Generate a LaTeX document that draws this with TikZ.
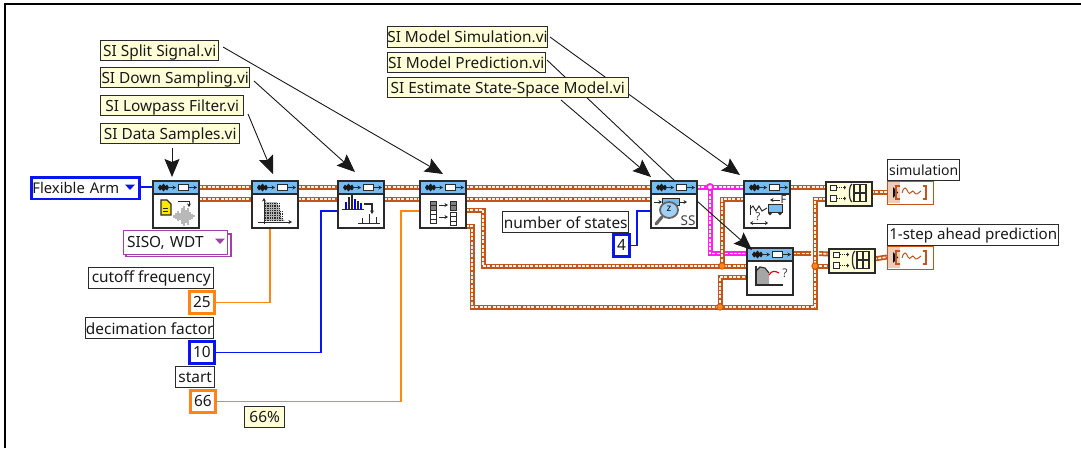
\documentclass[tikz,border=0pt]{standalone}
\usepackage{fontspec}
\setmainfont{Noto Sans}
\usetikzlibrary{arrows.meta,calc,positioning}
\definecolor{tipbg}{HTML}{FFFFD8}
\definecolor{wbrown}{HTML}{C4551A}
\definecolor{wlight}{HTML}{FFF4E8}
\definecolor{lvblue}{HTML}{0A14F0}
\definecolor{lvorange}{HTML}{FF8410}
\definecolor{lvpink}{HTML}{FF20F0}
\definecolor{lvpurple}{HTML}{A040A8}
\definecolor{headblue}{HTML}{78BCF0}
\definecolor{edge}{HTML}{2A2A2A}
\tikzset{
 x=1pt,y=-1pt,
 txt/.style={font=\fontsize{15.4}{15.4}\selectfont,inner sep=0pt,text=black!90},
 tipbox/.style={txt,draw=edge,fill=tipbg,line width=1.4pt,anchor=north west,align=left,text depth=0pt},
 lab/.style={txt,draw=edge,fill=white,line width=1.4pt,anchor=north west},
 numb/.style={txt,draw=#1,fill=white,line width=2.8pt,anchor=north west},
 viblk/.style={draw=edge,fill=white,line width=1.3pt,minimum width=46pt,minimum height=47pt,inner sep=0pt,anchor=north west},
 bldblk/.style={draw=edge,fill=tipbg,line width=1.5pt,minimum width=46pt,minimum height=24pt,inner sep=0pt,anchor=north west},
 indblk/.style={draw=wbrown,fill=white,line width=1.2pt,minimum width=46pt,minimum height=23pt,inner sep=0pt,anchor=north west},
 note/.style={draw=black!90,line width=.9pt,-{Stealth[length=18pt,width=15pt,inset=3pt]}},
 notep/.style={draw=black!90,line width=.9pt},
 thin wire/.style={draw=#1,line width=1.3pt},
 brownwire/.style={preaction={draw=wbrown,line width=5pt},draw=wlight,line width=1.6pt,dash pattern=on 3pt off 1.3pt},
 pinkwire/.style={preaction={draw=lvpink,line width=5pt},draw=white,line width=1.6pt,dash pattern=on 3pt off 1.3pt},
 junct/.style={circle,fill=lvorange,draw=wbrown,line width=.8pt,minimum size=6.5pt,inner sep=0pt},
 pjunct/.style={circle,fill=white,draw=lvpink,line width=1.8pt,minimum size=6pt,inner sep=0pt},
 ic/.style={draw=edge,line width=1pt},
 sarrow/.style={draw=edge,line width=1pt,-{Stealth[length=3.5pt,width=4pt]}},
}
% name, x, y : block with connector header
\newcommand{\viblock}[3]{%
 \node[viblk] (#1) at (#2,#3) {};
 \fill[headblue] (#2+.6,#3+.6) rectangle (#2+45.4,#3+13);
 \draw[edge,line width=1.1pt] (#2,#3+13) -- (#2+46,#3+13);
 \draw[edge,line width=1.3pt] (#2,#3) rectangle (#2+46,#3+47);
 \fill[black!90] (#2+5,#3+6.5) -- (#2+7,#3+3.5) -- (#2+8.5,#3+5) -- (#2+10.5,#3+2.5) -- (#2+12.5,#3+5) -- (#2+14,#3+3.5) -- (#2+16,#3+6.5) -- (#2+14,#3+9.5) -- (#2+12.5,#3+8) -- (#2+10.5,#3+10.5) -- (#2+8.5,#3+8) -- (#2+7,#3+9.5) -- cycle;
 \draw[sarrow,line width=.8pt] (#2+15,#3+6.5) -- (#2+23,#3+6.5);
 \draw[edge,fill=white,line width=1pt] (#2+25,#3+3.5) rectangle (#2+35,#3+9.5);
 \draw[sarrow,line width=.8pt] (#2+36,#3+6.5) -- (#2+44,#3+6.5);
 \coordinate (#1-l1) at (#2,#3+6);
 \coordinate (#1-l2) at (#2,#3+18);
 \coordinate (#1-l3) at (#2,#3+30);
 \coordinate (#1-r1) at (#2+46,#3+6);
 \coordinate (#1-r2) at (#2+46,#3+18);
 \coordinate (#1-r3) at (#2+46,#3+29);
 \coordinate (#1-r4) at (#2+46,#3+45);
 \coordinate (#1-top) at (#2+23,#3);
}
% name, x, y : yellow build-waveform block
\newcommand{\bldblock}[3]{%
 \node[bldblk] (#1) at (#2,#3) {};
 \draw[ic,fill=white] (#2+5,#3+4) rectangle (#2+11,#3+9.5);
 \draw[ic,fill=white] (#2+5,#3+14.5) rectangle (#2+11,#3+20);
 \draw[ic,densely dotted] (#2+12,#3+6.5) -- (#2+20,#3+6.5);
 \draw[ic,densely dotted] (#2+12,#3+17.5) -- (#2+20,#3+17.5);
 \fill[edge] (#2+21,#3+6.5) -- (#2+19,#3+4.5) -- (#2+19,#3+8.5) -- cycle;
 \fill[edge] (#2+21,#3+17.5) -- (#2+19,#3+15.5) -- (#2+19,#3+19.5) -- cycle;
 \draw[edge,line width=1.2pt] (#2+27,#3+3) .. controls (#2+23.5,#3+5) and (#2+23.5,#3+19) .. (#2+27,#3+21);
 \draw[edge,line width=1.2pt] (#2+29,#3+3.5) rectangle (#2+41,#3+20.5);
 \draw[edge,line width=1.2pt] (#2+35,#3+3.5) -- (#2+35,#3+20.5) (#2+29,#3+12) -- (#2+41,#3+12);
 \coordinate (#1-l1) at (#2,#3+6);
 \coordinate (#1-l2) at (#2,#3+18);
 \coordinate (#1-r) at (#2+46,#3+11);
}
% name, x, y : waveform indicator
\newcommand{\indblock}[3]{%
 \node[indblk] (#1) at (#2,#3) {};
 \fill[wbrown!30] (#2+.6,#3+.6) rectangle (#2+13,#3+22.4);
 \fill[black] (#2+6,#3+6) -- (#2+11,#3+11.5) -- (#2+6,#3+17) -- cycle;
 \draw[wbrown,line width=1.1pt] (#2+13,#3+5) -- (#2+9,#3+5) -- (#2+9,#3+18) -- (#2+13,#3+18);
 \draw[wbrown,line width=1.1pt] (#2+36,#3+5) -- (#2+39,#3+5) -- (#2+39,#3+18) -- (#2+36,#3+18);
 \draw[wbrown,line width=1pt] (#2+15,#3+12) .. controls (#2+17,#3+5) and (#2+19,#3+6) .. (#2+21,#3+11) .. controls (#2+23,#3+16) and (#2+25,#3+7) .. (#2+27,#3+11) .. controls (#2+29,#3+15) and (#2+31,#3+12) .. (#2+34,#3+10);
 \coordinate (#1-l) at (#2,#3+11);
}
\begin{document}
\begin{tikzpicture}
\useasboundingbox (0,0) rectangle (1081,448);
\fill[white] (0,0) rectangle (1081,448);
\draw[black,line width=2.4pt] (5,448) -- (5,4) -- (1081,4);

\coordinate (a0) at (172,148);
\coordinate (a1) at (248,114);
\coordinate (a2) at (254,81);
\coordinate (a3) at (223,47);
\coordinate (a4) at (561,100);
\coordinate (a5) at (547,60);
\coordinate (a6) at (550,37);

\viblock{ds}{153}{181}
\viblock{lp}{252}{181}
\viblock{dn}{338}{181}
\viblock{sp}{420}{181}
\viblock{es}{651}{181}
\viblock{si}{744}{181}
\viblock{pr}{747}{248}
\bldblock{b1}{825}{181}
\bldblock{b2}{828}{248}
\indblock{i1}{887}{181}
\indblock{i2}{887}{246}

% controls and labels
\node[numb=lvblue,font=\fontsize{14.8}{14.8}\selectfont,minimum width=108pt,minimum height=21.5pt,text width=106pt,align=left] (fa) at (30,176) {Flexible Arm};
\fill[lvblue] (125,184.5) -- (135,184.5) -- (130,190) -- cycle;
\draw[lvpurple,line width=1.1pt,fill=white] (126,234) rectangle (231,256.5);
\node[txt,draw=lvpurple,fill=white,line width=1.1pt,anchor=north west,minimum width=104pt,minimum height=24pt,text width=102pt,align=left] (ring) at (123,230) {\,SISO, WDT};
\fill[lvpurple] (215,238.5) -- (225,238.5) -- (220,244) -- cycle;

\node[lab,minimum width=125pt,minimum height=21pt] (cf) at (88,267) {cutoff frequency};
\node[numb=lvorange,minimum width=25pt,minimum height=22pt] (n25) at (188,290) {25};
\node[lab,minimum width=128pt,minimum height=21pt] (df) at (85,317) {decimation factor};
\node[numb=lvblue,minimum width=25pt,minimum height=22pt] (n10) at (188,340) {10};
\node[lab,minimum width=39pt,minimum height=21pt] (st) at (175,366) {start};
\node[numb=lvorange,minimum width=25pt,minimum height=22pt] (n66) at (189,389) {66};
\node[tipbox,minimum width=40pt,minimum height=21pt] (pc) at (244,406) {66\%};
\node[lab,minimum width=126pt,minimum height=21pt] (ns) at (502,211) {number of states};
\node[numb=lvblue,minimum width=16pt,minimum height=22pt] (n4) at (612,233) {4};
\node[lab,font=\fontsize{14}{14}\selectfont,minimum width=72pt,minimum height=21pt] (lsim) at (887,159) {simulation};
\node[lab,font=\fontsize{15.1}{15.1}\selectfont,minimum width=171pt,minimum height=21pt] (lpre) at (887,224) {1-step ahead prediction};

% thin wires
\draw[thin wire=lvblue] (fa.east |- ds-l1) -- (ds-l1);
\draw[thin wire=lvorange] (n25.east) -| (lp.south -| 270,228);
\draw[thin wire=lvblue] (n10.east) -| (321,211) -- (dn-l3);
\draw[thin wire=lvorange] (n66.east) -| (401,211) -- (sp-l3);
\draw[thin wire=lvblue] (n4.east) -| (637,211) -- (es-l3);

% thick wires
\coordinate (j1) at (722,266);
\coordinate (j2) at (720,307);
\coordinate (j3) at (815,266);
\coordinate (p1) at (710,187);
\foreach \a/\b in {ds-r1/lp-l1,ds-r2/lp-l2,lp-r1/dn-l1,lp-r2/dn-l2,dn-r1/sp-l1,dn-r2/sp-l2,sp-r1/es-l1,sp-r2/es-l2,si-r1/b1-l1}
  \draw[brownwire] (\a) -- (\b);
\draw[brownwire] (sp-r3) -| (483,266) -- (j1) -- (pr.west |- j1);
\draw[brownwire] (sp-r4) -| (472,307) -- (j2) -- (815,307) -- (j3) -- (815,199) -- (b1-l2);
\draw[pinkwire] (es-r1) -- (si-l1);
\draw[pinkwire] (p1) -- (710,253.5) -- (747,253.5);
\draw[brownwire] (j1) -- (722,199) -- (si-l2);
\draw[brownwire] (j2) -- (720,277) -- (747,277);
\draw[brownwire] (j3) -- (b2-l2);
\draw[brownwire] (793,253.5) -- (811,253.5);
\draw[brownwire] (819,253.5) -- (b2-l1);
\draw[brownwire] (b1-r) -- (i1-l);
\draw[brownwire] (b2-r) -- (i2-l);
\node[pjunct] (pj) at (p1) {};
\node[junct] (jj1) at (j1) {};
\node[junct] (jj2) at (j2) {};
\node[junct] (jj3) at (j3) {};

% redraw blocks on top of wires
\viblock{ds}{153}{181}
\viblock{lp}{252}{181}
\viblock{dn}{338}{181}
\viblock{sp}{420}{181}
\viblock{es}{651}{181}
\viblock{si}{744}{181}
\viblock{pr}{747}{248}
\bldblock{b1}{825}{181}
\bldblock{b2}{828}{248}
\indblock{i1}{887}{181}
\indblock{i2}{887}{246}

% --- icons ---
\begin{scope}[shift={(153pt,-181pt)}]
 \foreach \x/\h in {21/3,23/6,25/10,27/7,29/16,31/20,33/13,35/17,37/8,39/5,41/2}
   \draw[black!28,line width=1.3pt] (\x,35-\h/2) -- (\x,35+\h/2);
 \draw[edge,fill=yellow!90!orange,line width=1.1pt] (8,19) -- (14,19) -- (18,23) -- (18,34) -- (8,34) -- cycle;
 \draw[edge,line width=1pt] (10,27) -- (15,27) (10,30) -- (15,30);
 \draw[sarrow] (25,20) -- (36,20) -- (36,26);
\end{scope}
\begin{scope}[shift={(252pt,-181pt)}]
 \fill[black!30] (12,21) -- (25,21) -- (28,28) -- (29,36) -- (33,40) -- (12,40) -- cycle;
 \foreach \xx in {13,14.7,...,27} \foreach \yy in {22,23.7,...,40}
   \fill[edge] (\xx,\yy) rectangle +(1,1);
 \foreach \xx in {28,29.7} \foreach \yy in {30,31.7,...,40}
   \fill[edge] (\xx,\yy) rectangle +(1,1);
 \draw[sarrow] (12,43) -- (12,17);
 \draw[sarrow] (6,41) -- (40,41);
\end{scope}
\begin{scope}[shift={(338pt,-181pt)}]
 \draw[ic] (4,28) -- (26,28);
 \foreach \x/\h/\c in {8/7/blue,11/12/edge,14/15/edge,17/10/blue,20/8/edge,23/6/blue}
   \draw[\c,line width=1.1pt] (\x,28) -- (\x,28-\h);
 \draw[sarrow,line width=1.1pt] (26,23) -- (34,23) -- (34,33);
 \draw[ic] (20,42) -- (42,42);
 \foreach \x/\h in {24/5,31/9,38/6}
   \draw[ic] (\x,42) -- (\x,42-\h);
\end{scope}
\begin{scope}[shift={(420pt,-181pt)}]
 \foreach \yy/\cc in {20/black!50,24.5/black!50,29/white,33.5/white,38/white}
   \draw[ic,fill=\cc] (10,\yy) rectangle +(6,4.5);
 \foreach \yy/\cc in {20/black!50,24.5/black!50}
   \draw[ic,fill=\cc] (30,\yy) rectangle +(6,4.5);
 \foreach \yy in {31,35.5,40}
   \draw[ic,fill=white] (30,\yy) rectangle +(6,4.5);
 \draw[sarrow] (19,24) -- (28,24);
 \draw[sarrow] (19,36) -- (28,36);
\end{scope}
\begin{scope}[shift={(651pt,-181pt)}]
 \draw[sarrow] (3,21) -- (11,21);
 \draw[sarrow] (29,21) -- (36,21);
 \draw[ic,fill=headblue] (11,17) rectangle (28,24);
 \draw[black!60,fill=headblue!70,line width=1.8pt] (18,29) ellipse (9 and 8);
 \node[font=\fontsize{10}{10}\selectfont\bfseries,inner sep=0pt] (ez) at (18,28) {z};
 \draw[black!60,line width=3.2pt,line cap=round] (11,36) -- (5,43);
 \node[font=\fontsize{13.5}{13.5}\selectfont,text=black!75,inner sep=0pt] (ess) at (37,40) {SS};
\end{scope}
\begin{scope}[shift={(744pt,-181pt)}]
 \draw[sarrow] (36,19) -- (26,19);
 \node[font=\fontsize{11}{11}\selectfont\bfseries,inner sep=0pt,text=black!85] (simf) at (39.5,19) {F};
 \draw[ic] (6,24) -- (6,34);
 \draw[ic] (6,28) -- (9,25) -- (12,30) -- (15,25) -- (18,30) -- (23,27);
 \draw[ic,fill=headblue] (24,23) rectangle (38,31);
 \fill[edge] (26,32.5) circle (1.8) (36,32.5) circle (1.8);
 \node[font=\fontsize{11}{11}\selectfont,inner sep=0pt,text=black!75] (simq) at (14,36) {?};
 \draw[<->,>={Stealth[length=3pt,width=4pt]},ic] (6,42) -- (24,42);
\end{scope}
\begin{scope}[shift={(747pt,-248pt)}]
 \fill[black!35] (9,37) -- (9,23) -- (13,19) -- (18,20) -- (22,25) -- (22,37) -- cycle;
 \draw[edge,line width=1.1pt] (9,18) -- (9,37) -- (36,37);
 \draw[edge,line width=1.1pt] (9,23) -- (13,19) -- (18,20) -- (22,25);
 \draw[red!85!black,line width=1.1pt] (22,27) .. controls (25,22) and (28,23) .. (32,25);
 \node[font=\fontsize{12}{12}\selectfont,inner sep=0pt,text=black!75] (prq) at (38,25) {?};
\end{scope}

% tips
\node[tipbox,minimum width=118pt,minimum height=20pt] (t3) at (100,40) {SI Split Signal.vi};
\node[tipbox,minimum width=149pt,minimum height=20pt] (t2) at (100,67) {SI Down Sampling.vi};
\node[tipbox,minimum width=143pt,minimum height=20pt] (t1) at (100,95) {SI Lowpass Filter.vi};
\node[tipbox,minimum width=139pt,minimum height=20pt] (t0) at (100,123) {SI Data Samples.vi};

% annotation arrows
\coordinate (h0) at (172,177);
\coordinate (h1) at (273,174);
\coordinate (h2) at (355,172);
\coordinate (h3) at (443,174);
\coordinate (h4) at (651,177);
\coordinate (h6) at (740,175);
\coordinate (h5) at (752,250);
\coordinate (m5) at (675,181);
\coordinate (m6) at (697,201);
\draw[note] (a0) -- (h0);
\draw[note] (a1) -- (h1);
\draw[note] (a2) -- (h2);
\draw[note] (a3) -- (h3);
\draw[note] (a4) -- (h4);
\draw[note] (a6) -- (h6);
\draw[notep] (a5) -- (m5);
\draw[note] (m6) -- (h5);

\node[tipbox,minimum width=160pt,minimum height=21pt] (t6) at (386.6,25.6) {SI Model Simulation.vi};
\node[tipbox,minimum width=158pt,minimum height=20pt] (t5) at (386.6,51.6) {SI Model Prediction.vi};
\node[tipbox,minimum width=241pt,minimum height=20pt] (t4) at (386.6,76.6) {SI Estimate State-Space Model.vi};
\end{tikzpicture}
\end{document}
